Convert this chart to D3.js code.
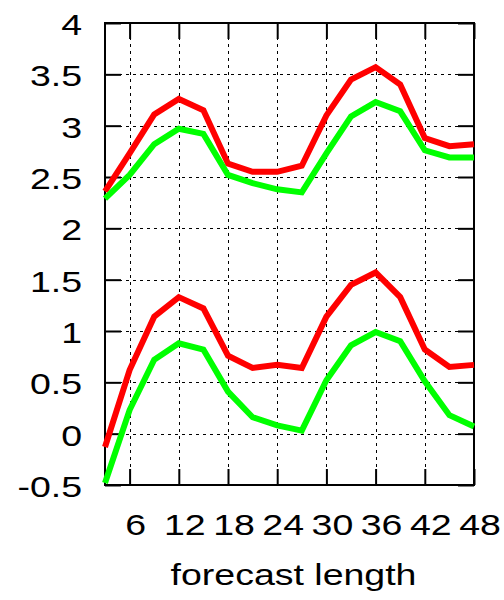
<!DOCTYPE html>
<html>
<head>
<meta charset="utf-8">
<script src="https://cdn.jsdelivr.net/npm/d3@7"></script>
<style>
  body { margin: 0; background: #fff; }
  text { font-family: "Liberation Sans", Arial, sans-serif; fill: #000; }
</style>
</head>
<body>
<svg id="chart"></svg>
<script>
    // forecast lead times (hours)
    const hours = [3, 6, 9, 12, 15, 18, 21, 24, 27, 30, 33, 36, 39, 42, 45, 48];

    // upper pair of curves
    const redUpper   = [2.36, 2.73, 3.11, 3.26, 3.15, 2.63, 2.55, 2.55, 2.61, 3.10, 3.45, 3.57, 3.40, 2.88, 2.80, 2.82];
    const greenUpper = [2.29, 2.52, 2.82, 2.97, 2.92, 2.52, 2.44, 2.38, 2.35, 2.73, 3.09, 3.23, 3.14, 2.76, 2.69, 2.69];

    // lower pair of curves
    const redLower   = [-0.13, 0.62, 1.14, 1.33, 1.22, 0.76, 0.64, 0.67, 0.64, 1.14, 1.45, 1.57, 1.33, 0.82, 0.65, 0.67];
    const greenLower = [-0.48, 0.23, 0.72, 0.88, 0.82, 0.41, 0.16, 0.08, 0.03, 0.52, 0.86, 0.99, 0.90, 0.51, 0.18, 0.07];

    const xTicks = [6, 12, 18, 24, 30, 36, 42, 48];
    const yTicks = [-0.5, 0, 0.5, 1, 1.5, 2, 2.5, 3, 3.5, 4];
    const xLabel = "forecast length";

    const margin = { top: 23, right: 30, bottom: 115, left: 105 },
      width = 504 - margin.left - margin.right,
      height = 600 - margin.top - margin.bottom;

    const svg = d3.select("#chart")
      .attr("width", 504)
      .attr("height", 600)
      .append("g")
      .attr("transform", `translate(${margin.left}, ${margin.top})`);

    const x = d3.scaleLinear().domain([3, 48]).range([0, width]);
    const y = d3.scaleLinear().domain([-0.5, 4]).range([height, 0]);

    // dotted grid
    const grid = svg.append("g")
      .attr("stroke", "#000")
      .attr("stroke-width", 1)
      .attr("stroke-dasharray", "3,4");
    grid.selectAll(".vgrid")
      .data(xTicks)
      .enter().append("line")
      .attr("x1", d => Math.round(x(d)) + 0.5)
      .attr("x2", d => Math.round(x(d)) + 0.5)
      .attr("y1", 0)
      .attr("y2", height);
    grid.selectAll(".hgrid")
      .data(yTicks)
      .enter().append("line")
      .attr("x1", 0)
      .attr("x2", width)
      .attr("y1", d => Math.round(y(d)) + 0.5)
      .attr("y2", d => Math.round(y(d)) + 0.5);

    // ticks on all four sides, pointing inwards
    const tickLen = 16;
    const axes = [
      { axis: d3.axisBottom(x).tickValues(xTicks), t: `translate(0, ${height})` },
      { axis: d3.axisTop(x).tickValues(xTicks), t: "translate(0, 0)" },
      { axis: d3.axisLeft(y).tickValues(yTicks), t: "translate(0, 0)" },
      { axis: d3.axisRight(y).tickValues(yTicks), t: `translate(${width}, 0)` }
    ];
    axes.forEach(a => {
      const g = svg.append("g")
        .attr("transform", a.t)
        .call(a.axis.tickSize(-tickLen).tickFormat(""));
      g.select(".domain").remove();
      g.selectAll(".tick line").attr("stroke", "#000").attr("stroke-width", 2);
    });

    // frame
    svg.append("rect")
      .attr("x", 0)
      .attr("y", 0)
      .attr("width", width)
      .attr("height", height)
      .attr("fill", "none")
      .attr("stroke", "#000")
      .attr("stroke-width", 2);

    // lines
    const line = d3.line()
      .x((d, i) => x(hours[i]))
      .y(d => y(d));

    const series = [
      { values: redUpper, color: "#ff0000" },
      { values: greenUpper, color: "#00ff00" },
      { values: redLower, color: "#ff0000" },
      { values: greenLower, color: "#00ff00" }
    ];
    svg.selectAll(".series")
      .data(series)
      .enter().append("path")
      .attr("class", "series")
      .attr("fill", "none")
      .attr("stroke", d => d.color)
      .attr("stroke-width", 6)
      .attr("d", d => line(d.values));

    // tick labels (the reference font is stretched horizontally)
    const stretch = 1.25;
    svg.selectAll(".xlab")
      .data(xTicks)
      .enter().append("text")
      .attr("class", "xlab")
      .attr("transform", d => `translate(${x(d) + 6}, ${height + 50}) scale(${stretch}, 1)`)
      .attr("text-anchor", "middle")
      .style("font-size", "30px")
      .text(d => d);

    svg.selectAll(".ylab")
      .data(yTicks)
      .enter().append("text")
      .attr("class", "ylab")
      .attr("transform", d => `translate(-23, ${y(d) + 12}) scale(${stretch}, 1)`)
      .attr("text-anchor", "end")
      .style("font-size", "30px")
      .text(d => String(d));

    svg.append("text")
      .attr("transform", `translate(${width / 2 + 4}, ${height + 100}) scale(${stretch}, 1)`)
      .attr("text-anchor", "middle")
      .style("font-size", "30px")
      .text(xLabel);
</script>
</body>
</html>
